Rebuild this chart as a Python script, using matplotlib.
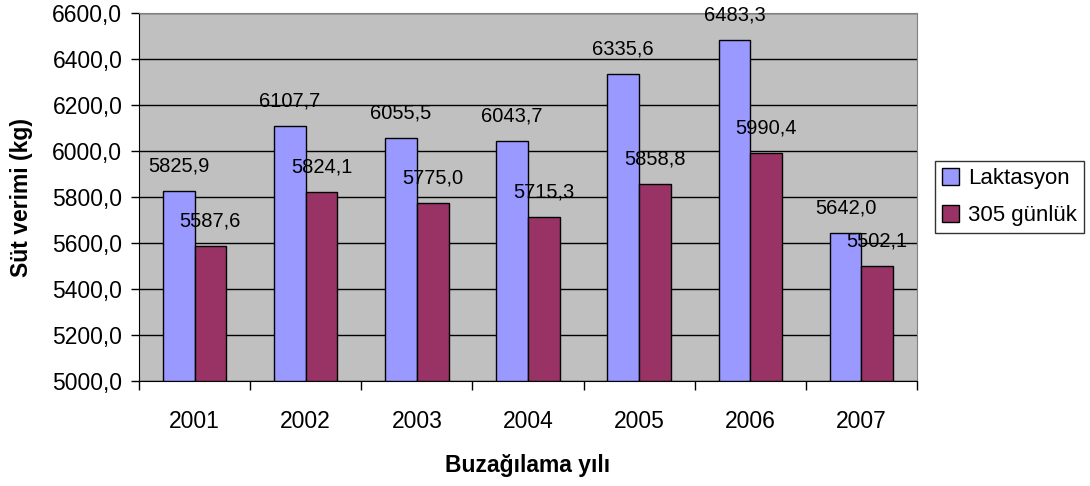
import matplotlib.pyplot as plt
import numpy as np

years = ["2001", "2002", "2003", "2004", "2005", "2006", "2007"]
laktasyon = [5825.9, 6107.7, 6055.5, 6043.7, 6335.6, 6483.3, 5642.0]
gunluk_305 = [5587.6, 5824.1, 5775.0, 5715.3, 5858.8, 5990.4, 5502.1]
y_ticks = [5000, 5200, 5400, 5600, 5800, 6000, 6200, 6400, 6600]


def fmt(v):
    return f"{v:.1f}".replace(".", ",")


plt.rcParams["font.family"] = ["Liberation Sans", "DejaVu Sans"]

fig = plt.figure(figsize=(10.9, 4.86), dpi=100)
ax = fig.add_axes([0.1275, 0.216, 0.7138, 0.757])
ax.set_facecolor("#C0C0C0")

x = np.arange(len(years))
w = 0.285
ax.bar(x - w / 2, np.array(laktasyon) - 5000, w, bottom=5000, color="#9999FF",
       edgecolor="black", linewidth=1, label="Laktasyon", zorder=3)
ax.bar(x + w / 2, np.array(gunluk_305) - 5000, w, bottom=5000, color="#993366",
       edgecolor="black", linewidth=1, label="305 günlük", zorder=3)

# data labels above each bar
for xi, v in zip(x - w / 2, laktasyon):
    ax.annotate(fmt(v), (xi, v), xytext=(0, 18), textcoords="offset points",
                ha="center", va="center", fontsize=14.5, zorder=4)
for xi, v in zip(x + w / 2, gunluk_305):
    ax.annotate(fmt(v), (xi, v), xytext=(0, 18), textcoords="offset points",
                ha="center", va="center", fontsize=14.5, zorder=4)

ax.set_xlim(-0.5, len(years) - 0.5)
ax.set_ylim(5000, 6600)
ax.set_yticks(y_ticks)
ax.set_yticklabels([fmt(t) for t in y_ticks], fontsize=16.5)
ax.yaxis.grid(True, color="black", linewidth=1, zorder=1)
ax.set_axisbelow(True)

ax.set_xticks(x)
ax.set_xticklabels(years, fontsize=16.5)
ax.tick_params(axis="x", length=0, pad=21)
ax.set_xticks(np.arange(len(years) + 1) - 0.5, minor=True)
ax.tick_params(axis="x", which="minor", length=6.5, width=1, color="black")
ax.tick_params(axis="y", length=6, width=1, color="black", pad=6)

ax.spines["left"].set_color("black")
ax.spines["bottom"].set_color("black")
ax.spines["top"].set_color("#808080")
ax.spines["right"].set_color("#808080")

ax.set_xlabel("Buzağılama yılı", fontsize=16.5, fontweight="bold", labelpad=15)
ax.set_ylabel("Süt verimi (kg)", fontsize=16.5, fontweight="bold", labelpad=14)

leg = ax.legend(loc="center left", bbox_to_anchor=(1.023, 0.5), fontsize=16,
                frameon=True, fancybox=False, edgecolor="black", handlelength=0.8,
                handleheight=0.8, handletextpad=0.4, borderpad=0.3, labelspacing=0.7,
                borderaxespad=0)
leg.get_frame().set_linewidth(1)

fig.savefig("out.png", dpi=100)
